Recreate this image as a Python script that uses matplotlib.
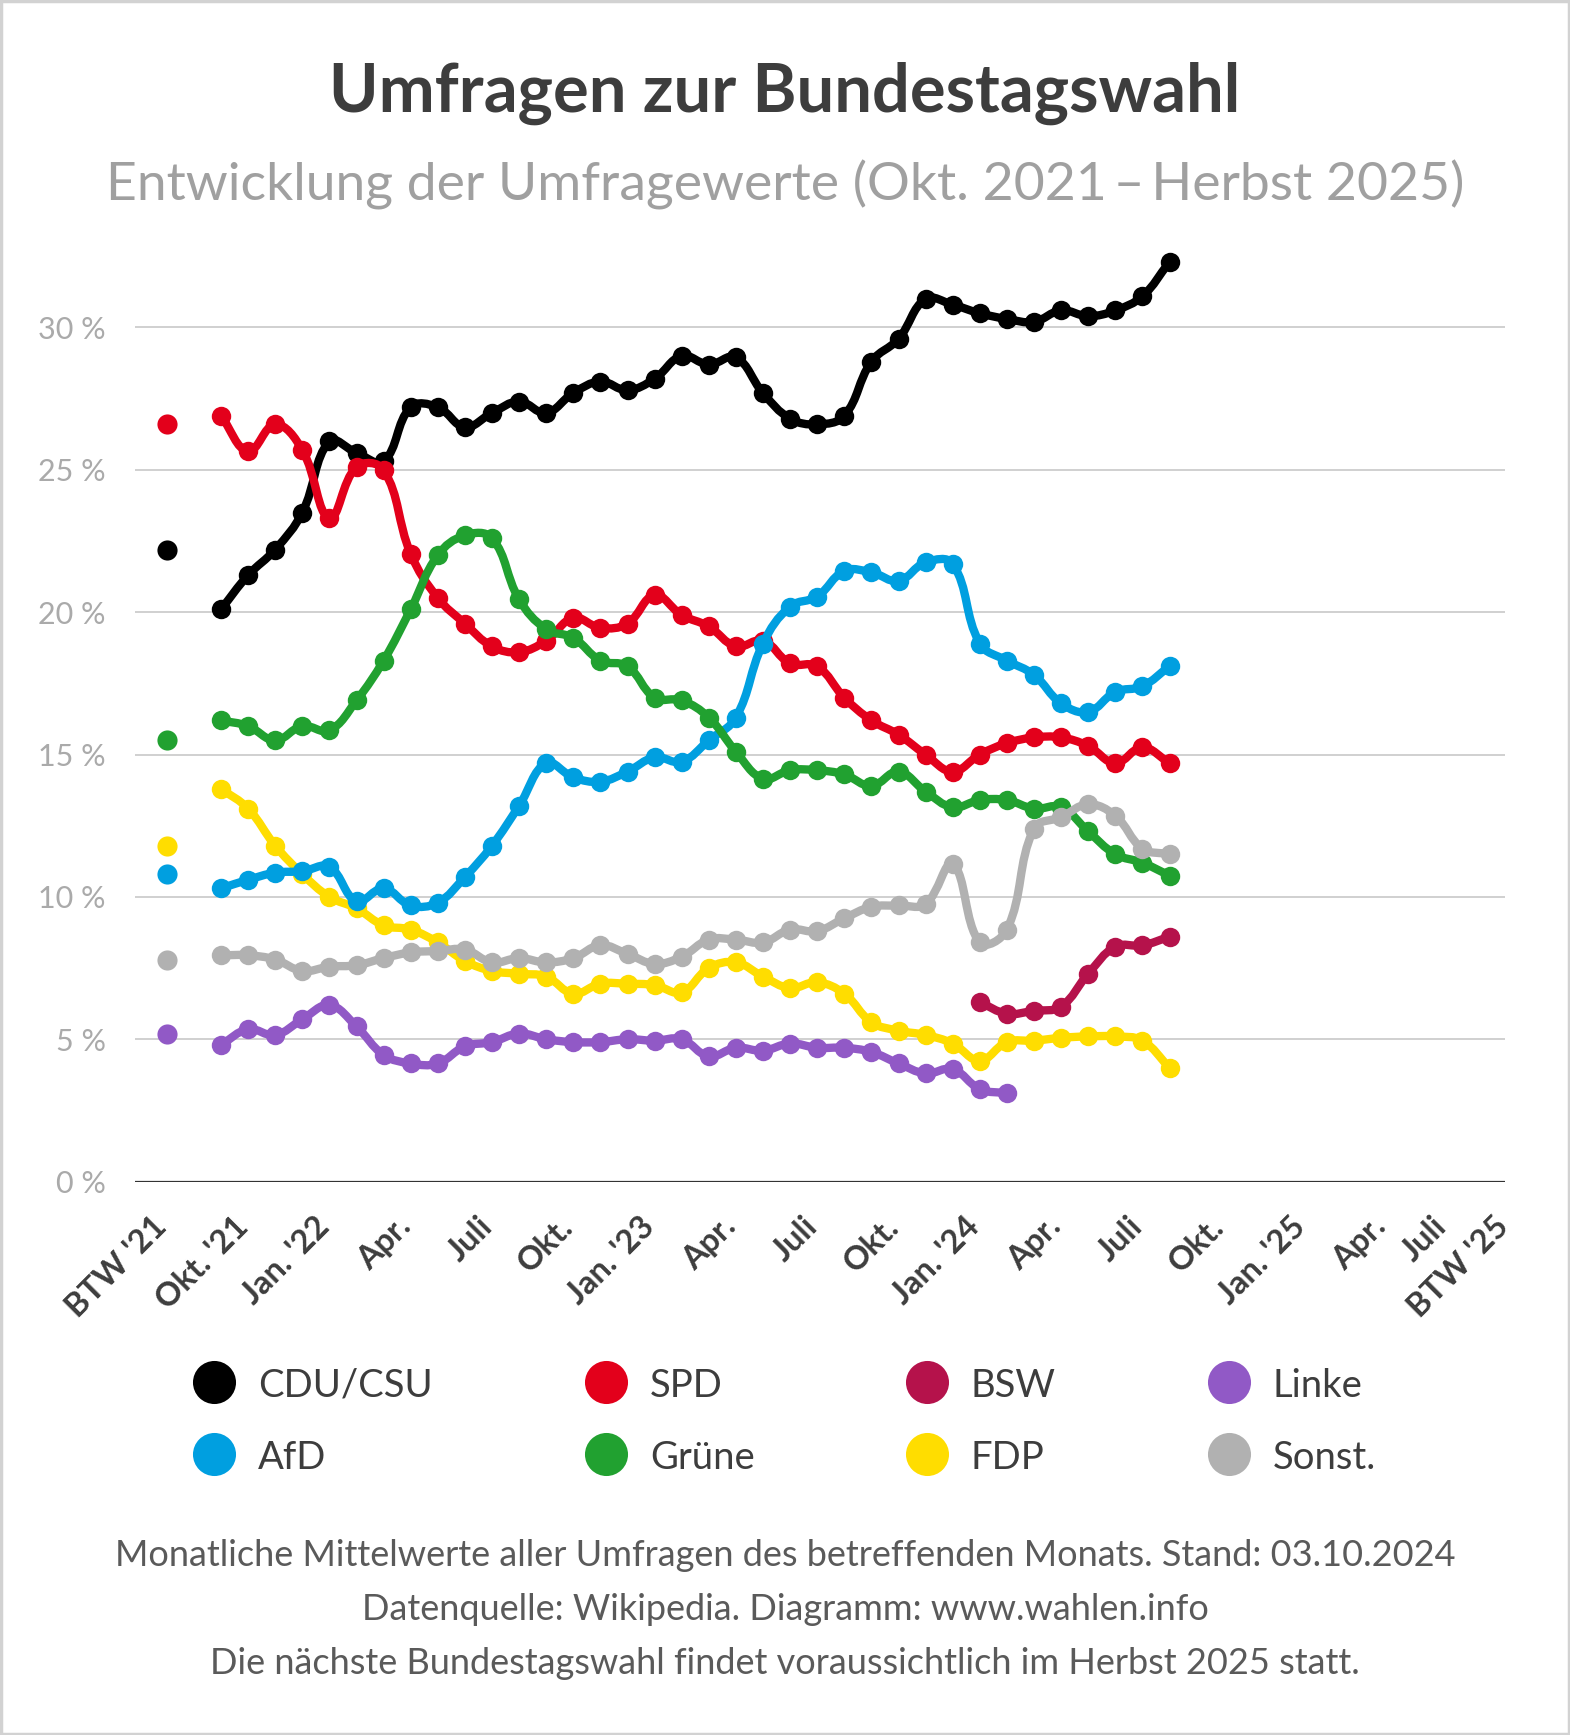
import numpy as np
import matplotlib
matplotlib.use("Agg")
import matplotlib.pyplot as plt
from matplotlib.path import Path
from matplotlib.patches import PathPatch, Rectangle
from matplotlib.transforms import ScaledTranslation

plt.rcParams['font.family'] = ['Lato', 'DejaVu Sans']

# months counted from Okt. 2021 (= 0); BTW '21 shown at -2
cdu = [20.1, 21.3, 22.2, 23.5, 26.0, 25.6, 25.3, 27.2, 27.2, 26.5, 27.0, 27.4,
       27.0, 27.7, 28.1, 27.8, 28.2, 29.0, 28.7, 28.95, 27.7, 26.8, 26.6, 26.9,
       28.8, 29.6, 31.0, 30.8, 30.5, 30.3, 30.2, 30.6, 30.4, 30.6, 31.1, 32.3]
spd = [26.9, 25.65, 26.6, 25.7, 23.3, 25.1, 25.0, 22.05, 20.5, 19.6, 18.8, 18.6,
       19.0, 19.8, 19.45, 19.6, 20.6, 19.9, 19.5, 18.8, 19.0, 18.2, 18.1, 17.0,
       16.2, 15.7, 15.0, 14.4, 15.0, 15.4, 15.6, 15.6, 15.3, 14.7, 15.25, 14.7]
gruene = [16.2, 16.0, 15.5, 16.0, 15.85, 16.9, 18.3, 20.1, 22.0, 22.7, 22.6, 20.45,
          19.4, 19.1, 18.3, 18.1, 17.0, 16.9, 16.3, 15.1, 14.15, 14.45, 14.45, 14.3,
          13.9, 14.4, 13.7, 13.15, 13.4, 13.4, 13.1, 13.15, 12.3, 11.5, 11.2, 10.75]
afd = [10.3, 10.6, 10.85, 10.9, 11.05, 9.85, 10.3, 9.7, 9.8, 10.7, 11.8, 13.2,
       14.7, 14.2, 14.05, 14.4, 14.9, 14.75, 15.5, 16.3, 18.9, 20.2, 20.55, 21.45,
       21.4, 21.1, 21.75, 21.7, 18.9, 18.3, 17.8, 16.8, 16.5, 17.2, 17.4, 18.1]
fdp = [13.8, 13.1, 11.8, 10.8, 10.0, 9.6, 9.0, 8.85, 8.4, 7.75, 7.4, 7.3,
       7.2, 6.6, 6.95, 6.95, 6.9, 6.65, 7.5, 7.7, 7.2, 6.8, 7.0, 6.6,
       5.6, 5.3, 5.15, 4.85, 4.25, 4.9, 4.95, 5.05, 5.1, 5.1, 4.95, 4.0]
sonst = [7.95, 7.95, 7.8, 7.4, 7.55, 7.6, 7.85, 8.05, 8.1, 8.15, 7.7, 7.85,
         7.7, 7.85, 8.3, 8.0, 7.65, 7.9, 8.5, 8.5, 8.4, 8.85, 8.8, 9.25,
         9.65, 9.7, 9.75, 11.15, 8.4, 8.85, 12.4, 12.8, 13.25, 12.85, 11.7, 11.5]
linke = [4.8, 5.35, 5.15, 5.7, 6.2, 5.45, 4.45, 4.15, 4.15, 4.75, 4.9, 5.2,
         5.0, 4.9, 4.9, 5.0, 4.95, 5.0, 4.4, 4.7, 4.6, 4.85, 4.7, 4.7,
         4.55, 4.15, 3.8, 3.95, 3.25, 3.1]
bsw = [6.3, 5.9, 6.0, 6.15, 7.3, 8.25, 8.3, 8.6]
bsw_start = 28

btw21_x = -2
btw21 = {'CDU/CSU': 22.2, 'SPD': 26.6, 'Grüne': 15.5, 'FDP': 11.8,
         'AfD': 10.8, 'Sonst.': 7.8, 'Linke': 5.2}

tick_pos = [-3, 0, 3, 6, 9, 12, 15, 18, 21, 24, 27, 30, 33, 36, 39, 42, 44.2, 46.5]
tick_labels = ["BTW '21", "Okt. '21", "Jan. '22", "Apr.", "Juli", "Okt.", "Jan. '23",
               "Apr.", "Juli", "Okt.", "Jan. '24", "Apr.", "Juli", "Okt.", "Jan. '25",
               "Apr.", "Juli", "BTW '25"]

colors = {'CDU/CSU': '#000000', 'SPD': '#E3001B', 'BSW': '#B5124B', 'Linke': '#9159C6',
          'AfD': '#009FE0', 'Grüne': '#21A130', 'FDP': '#FFDD00', 'Sonst.': '#B1B1B1'}

series = [  # name, start month, values, zorder
    ('CDU/CSU', 0, cdu, 1),
    ('SPD', 0, spd, 2),
    ('Linke', 0, linke, 3),
    ('BSW', bsw_start, bsw, 4),
    ('FDP', 0, fdp, 5),
    ('AfD', 0, afd, 6),
    ('Grüne', 0, gruene, 7),
    ('Sonst.', 0, sonst, 8),
]

W, H = 1570, 1735
fig = plt.figure(figsize=(W / 100, H / 100), dpi=100)

# plot area in pixels
x_left, x_right = 135, 1505
y_zero, px_per_pct = 1181.6, 28.47
px_per_month = 27.1
x0_px = 221
ymax = 33
ax = fig.add_axes([x_left / W, (H - y_zero) / H, (x_right - x_left) / W,
                   ymax * px_per_pct / H])
ax.set_xlim((x_left - x0_px) / px_per_month, (x_right - x0_px) / px_per_month)
ax.set_ylim(0, ymax)
for s in ax.spines.values():
    s.set_visible(False)
ax.axhline(0, color='#333333', lw=1.6, zorder=0.5)
for g in range(5, 31, 5):
    ax.axhline(g, color='#d0d0d0', lw=1.4, zorder=0)


def spline(xs, ys, t=0.4):
    # chart.js style cubic bezier through the points
    p = np.column_stack([np.asarray(xs, float) * px_per_month,
                         np.asarray(ys, float) * px_per_pct])
    n = len(p)
    cprev, cnext = p.copy(), p.copy()
    for i in range(n):
        a = p[i - 1] if i > 0 else p[i]
        c = p[i + 1] if i < n - 1 else p[i]
        d01 = np.hypot(*(p[i] - a))
        d12 = np.hypot(*(c - p[i]))
        tot = d01 + d12
        if tot == 0:
            continue
        cprev[i] = p[i] - t * d01 / tot * (c - a)
        cnext[i] = p[i] + t * d12 / tot * (c - a)
    verts = [p[0]]
    codes = [Path.MOVETO]
    for i in range(n - 1):
        verts += [cnext[i], cprev[i + 1], p[i + 1]]
        codes += [Path.CURVE4] * 3
    verts = np.array(verts) / [px_per_month, px_per_pct]
    return Path(verts, codes)


for name, start, vals, z in series:
    xs = np.arange(start, start + len(vals))
    ax.add_patch(PathPatch(spline(xs, vals), fill=False, edgecolor=colors[name],
                           lw=6, capstyle='round', joinstyle='round', zorder=z))
    ax.plot(xs, vals, 'o', ms=14, color=colors[name], mec='none', zorder=z + 0.1)
    if name in btw21:
        ax.plot([btw21_x], [btw21[name]], 'o', ms=14.5, color=colors[name],
                mec='none', zorder=z)

ax.set_yticks(range(0, 31, 5))
ax.set_yticklabels([f"{v} %" for v in range(0, 31, 5)], fontsize=22, color='#aaaaaa')
ax.tick_params(axis='y', length=0, pad=21)
ax.set_xticks([])

off = ScaledTranslation(12 / 100, -30 / 100, fig.dpi_scale_trans)
for pos, lab in zip(tick_pos, tick_labels):
    ax.text(pos, 0, lab, transform=ax.get_xaxis_transform() + off, rotation=45,
            rotation_mode='anchor', ha='right', va='top', fontsize=23.5,
            fontweight='bold', color='#3d3d3d')

# overlay in pixel coordinates for title, legend, footer
ov = fig.add_axes([0, 0, 1, 1], zorder=-1)
ov.set_xlim(0, W)
ov.set_ylim(H, 0)
ov.axis('off')
ov.add_patch(Rectangle((1, 1), W - 2, H - 2, fill=False, edgecolor='#d2d2d2', lw=2.5))

ov.text(785, 112, "Umfragen zur Bundestagswahl", ha='center', va='baseline',
        fontsize=48.2, fontweight='bold', color='#3d3d3d')
ov.text(785, 200, "Entwicklung der Umfragewerte (Okt. 2021\u2009\u2013\u2009Herbst 2025)",
        ha='center', va='baseline', fontsize=38.5, color='#a0a0a0')

legend_names = ['CDU/CSU', 'SPD', 'BSW', 'Linke', 'AfD', 'Grüne', 'FDP', 'Sonst.']
col_x = [214, 606, 927, 1229]
row_y = [1382, 1454]
for k, name in enumerate(legend_names):
    cx, cy = col_x[k % 4], row_y[k // 4]
    ov.plot([cx], [cy], 'o', ms=31, color=colors[name], mec='none')
    ov.text(cx + 44, cy + 14.5, name, ha='left', va='baseline', fontsize=27.5,
            color='#3d3d3d')

footer = ["Monatliche Mittelwerte aller Umfragen des betreffenden Monats. Stand: 03.10.2024",
          "Datenquelle: Wikipedia. Diagramm: www.wahlen.info",
          "Die nächste Bundestagswahl findet voraussichtlich im Herbst 2025 statt."]
for i, line in enumerate(footer):
    ov.text(785, 1566 + 54 * i, line, ha='center', va='baseline', fontsize=26,
            color='#5a5a5a')

fig.savefig("out.png", dpi=100, facecolor='white')
